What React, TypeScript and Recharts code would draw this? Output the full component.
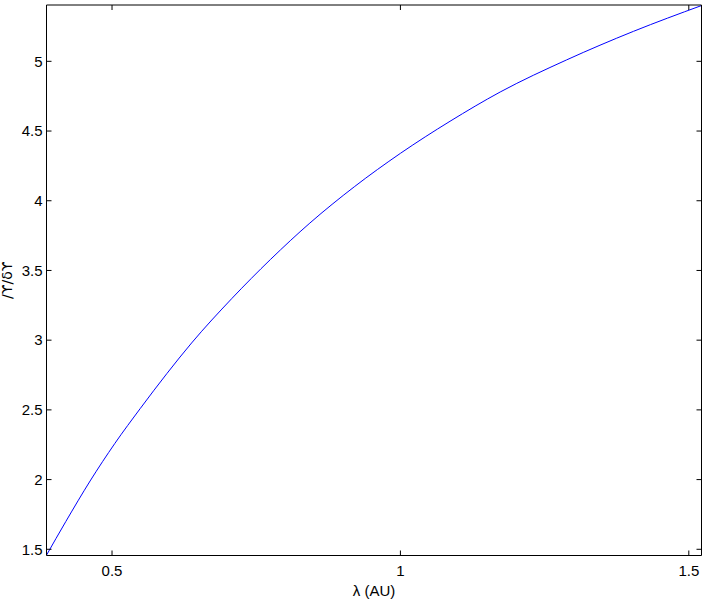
import { LineChart, Line, XAxis, YAxis } from 'recharts';

// lambda (AU) sample positions
const lambdaAU = [0.386, 0.42, 0.462, 0.505, 0.549, 0.595, 0.638, 0.708, 0.775, 0.843, 0.92, 1.0, 1.086, 1.173, 1.288, 1.404, 1.522];
// ratio values at those positions
const ratio = [1.455, 1.7, 1.99, 2.26, 2.51, 2.76, 2.98, 3.3, 3.58, 3.84, 4.1, 4.34, 4.57, 4.78, 5.01, 5.215, 5.4];

const xTicks = [0.5, 1, 1.5];
const yTicks = [1.5, 2, 2.5, 3, 3.5, 4, 4.5, 5];

const data = lambdaAU.map((lam, i) => ({ lam, val: ratio[i] }));

const font = { fontFamily: '"Liberation Sans", Arial, sans-serif', fontSize: 15, fill: '#000' };
const blank = () => '';

export default function App() {
  return (
    <div style={{ position: 'absolute', left: 0, top: 0, background: '#fff' }}>
      <LineChart
        width={708}
        height={599}
        data={data}
        margin={{ top: 0, right: 0, bottom: 0, left: 0 }}
      >
        <XAxis
          xAxisId="bottom"
          dataKey="lam"
          type="number"
          domain={[0.3864, 1.522]}
          ticks={xTicks}
          allowDataOverflow
          height={43.5}
          tickSize={-5}
          tickMargin={15}
          stroke="#000"
          tick={font}
          label={{ value: 'λ (AU)', position: 'insideBottom', offset: 3, style: font }}
        />
        <XAxis
          xAxisId="top"
          orientation="top"
          dataKey="lam"
          type="number"
          domain={[0.3864, 1.522]}
          ticks={xTicks}
          allowDataOverflow
          height={5}
          tickSize={-5}
          tickFormatter={blank}
          stroke="#000"
        />
        <YAxis
          yAxisId="left"
          type="number"
          domain={[1.4555, 5.404]}
          ticks={yTicks}
          allowDataOverflow
          width={46.5}
          tickSize={-5}
          tickMargin={9}
          stroke="#000"
          tick={font}
          label={{
            content: (props: any) => {
              const vb = props.viewBox;
              const cx = 12;
              const cy = vb.y + vb.height / 2;
              return (
                <text
                  x={cx}
                  y={cy}
                  transform={`rotate(-90 ${cx} ${cy})`}
                  textAnchor="middle"
                  style={{ ...font, fontFamily: '"DejaVu Sans", sans-serif', fontSize: 14 }}
                >
                  /ϒ/δϒ
                </text>
              );
            },
          }}
        />
        <YAxis
          yAxisId="right"
          orientation="right"
          type="number"
          domain={[1.4555, 5.404]}
          ticks={yTicks}
          allowDataOverflow
          width={6.5}
          tickSize={-5}
          tickFormatter={blank}
          stroke="#000"
        />
        <Line
          xAxisId="bottom"
          yAxisId="left"
          type="monotone"
          dataKey="val"
          stroke="#0000ff"
          strokeWidth={1}
          dot={false}
          isAnimationActive={false}
        />
      </LineChart>
    </div>
  );
}
